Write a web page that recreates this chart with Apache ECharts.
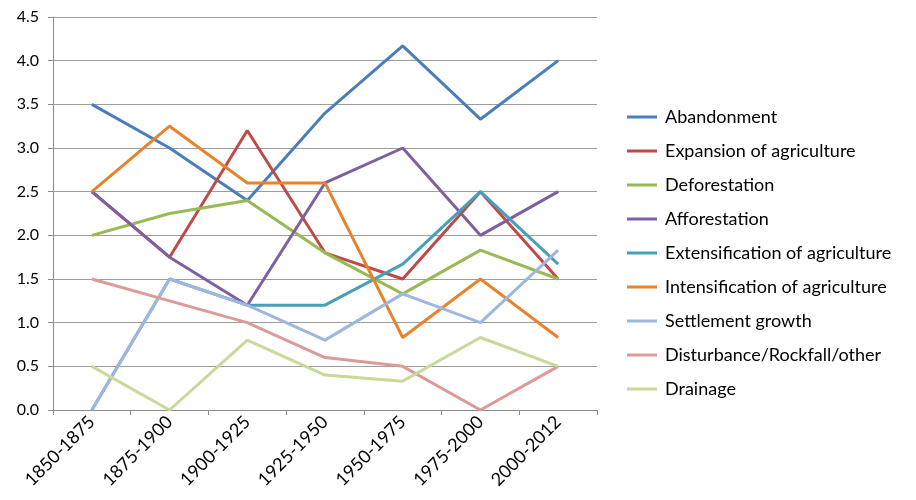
<!DOCTYPE html>
<html>
<head>
<meta charset="utf-8">
<script src="https://cdn.jsdelivr.net/npm/echarts@6/dist/echarts.min.js"></script>
<style>
  html, body { margin: 0; padding: 0; background: #fff; }
  #chart { width: 916px; height: 500px; }
</style>
</head>
<body>
<div id="chart"></div>
<script>
// periods on the x axis
const periods = ["1850-1875", "1875-1900", "1900-1925", "1925-1950", "1950-1975", "1975-2000", "2000-2012"];

// one array per driver
const abandonment   = [3.5, 3.0, 2.4, 3.4, 4.17, 3.33, 4.0];
const expansion     = [2.5, 1.75, 3.2, 1.8, 1.5, 2.5, 1.5];
const deforestation = [2.0, 2.25, 2.4, 1.8, 1.33, 1.83, 1.5];
const afforestation = [2.5, 1.75, 1.2, 2.6, 3.0, 2.0, 2.5];
const extensification = [0, 1.5, 1.2, 1.2, 1.67, 2.5, 1.67];
const intensification = [2.5, 3.25, 2.6, 2.6, 0.83, 1.5, 0.83];
const settlement    = [0, 1.5, 1.2, 0.8, 1.33, 1.0, 1.83];
const disturbance   = [1.5, 1.25, 1.0, 0.6, 0.5, 0.0, 0.5];
const drainage      = [0.5, 0.0, 0.8, 0.4, 0.33, 0.83, 0.5];

const seriesDefs = [
  ["Abandonment", abandonment, "#4a7ebb"],
  ["Expansion of agriculture", expansion, "#be4b48"],
  ["Deforestation", deforestation, "#98b954"],
  ["Afforestation", afforestation, "#7d60a0"],
  ["Extensification of agriculture", extensification, "#46a0b8"],
  ["Intensification of agriculture", intensification, "#e8832d"],
  ["Settlement growth", settlement, "#9fb7de"],
  ["Disturbance/Rockfall/other", disturbance, "#dc9a98"],
  ["Drainage", drainage, "#c8d99a"]
];

const chart = echarts.init(document.getElementById("chart"));
const fontFam = "Lato, 'Open Sans', sans-serif";

chart.setOption({
  animation: false,
  grid: { left: 53, right: 319, top: 17, bottom: 90 },
  legend: {
    orient: "vertical",
    left: 622,
    top: 103,
    itemWidth: 30,
    itemHeight: 3,
    itemGap: 16,
    icon: "path://M0,0L30,0L30,3L0,3Z",
    data: seriesDefs.map(d => d[0]),
    textStyle: { fontFamily: fontFam, fontSize: 18, color: "#000", padding: [0, 0, 0, 3] }
  },
  xAxis: {
    type: "category",
    data: periods,
    boundaryGap: true,
    axisLine: { lineStyle: { color: "#8c8c8c" } },
    axisTick: { show: true, length: 5, lineStyle: { color: "#8c8c8c" } },
    axisLabel: { rotate: 45, fontFamily: fontFam, fontSize: 18, color: "#000", margin: 9 }
  },
  yAxis: {
    type: "value",
    min: 0,
    max: 4.5,
    interval: 0.5,
    axisLine: { show: true, lineStyle: { color: "#8c8c8c" } },
    axisTick: { show: true, length: 5, lineStyle: { color: "#8c8c8c" } },
    splitLine: { lineStyle: { color: "#9d9d9d" } },
    axisLabel: {
      fontFamily: fontFam, fontSize: 16, color: "#000", margin: 14,
      formatter: v => v.toFixed(1)
    }
  },
  series: seriesDefs.map(d => ({
    name: d[0],
    type: "line",
    data: d[1],
    symbol: "none",
    color: d[2],
    itemStyle: { color: d[2] },
    lineStyle: { color: d[2], width: 3 }
  }))
});
</script>
</body>
</html>
